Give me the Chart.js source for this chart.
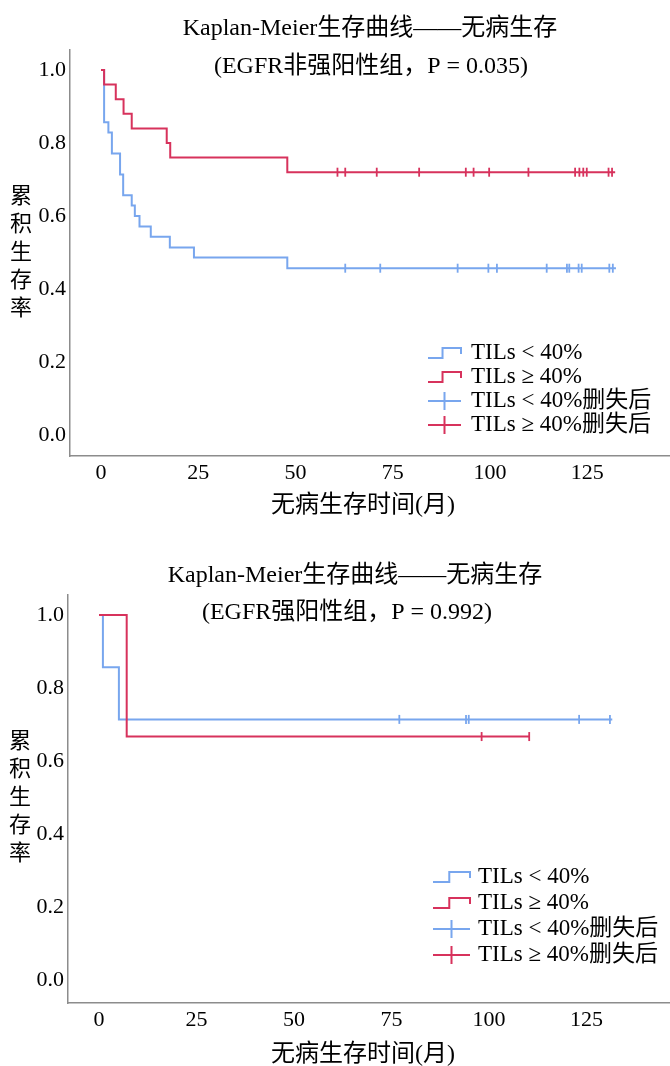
<!DOCTYPE html>
<html>
<head>
<meta charset="utf-8">
<script src="https://cdn.jsdelivr.net/npm/chart.js@4.4.1/dist/chart.umd.min.js"></script>
<style>
body { margin: 0; background: #fff; width: 670px; height: 1066px; overflow: hidden; }
.box { position: absolute; left: 0; width: 670px; height: 533px; }
</style>
</head>
<body>
<div class="box" style="top:0"><canvas id="c1" width="670" height="533"></canvas></div>
<div class="box" style="top:533px"><canvas id="c2" width="670" height="533"></canvas></div>
<script>
// axis ticks
var xTicks = [0, 25, 50, 75, 100, 125];
var yTicks = [0, 0.2, 0.4, 0.6, 0.8, 1.0];
var legendLabels = ['TILs < 40%', 'TILs ≥ 40%', 'TILs < 40%删失后', 'TILs ≥ 40%删失后'];

// chart 1: EGFR非强阳性组
var lowTime1 = [0, 0.8, 1.9, 2.8, 4.9, 5.7, 7.9, 8.7, 9.9, 12.8, 17.7, 23.9, 47.9, 132.4];
var lowSurv1 = [1, 0.857, 0.829, 0.771, 0.714, 0.657, 0.629, 0.600, 0.571, 0.543, 0.514, 0.486, 0.457, 0.457];
var lowCens1 = [62.8, 71.8, 91.7, 99.6, 101.8, 114.6, 119.8, 120.4, 122.8, 123.6, 130.7, 131.6];
var highTime1 = [0, 0.8, 3.8, 5.8, 7.9, 16.9, 17.8, 47.9, 132.2];
var highSurv1 = [1, 0.96, 0.92, 0.88, 0.84, 0.80, 0.76, 0.72, 0.72];
var highCens1 = [60.8, 62.8, 70.9, 81.8, 93.8, 95.8, 99.8, 109.9, 121.9, 123.0, 124.0, 124.9, 130.5, 131.4];

// chart 2: EGFR强阳性组
var lowTime2 = [0, 1.0, 5.1, 131.6];
var lowSurv2 = [1, 0.857, 0.714, 0.714];
var lowCens2 = [77.0, 94.1, 94.8, 123.1, 131.0];
var highTime2 = [0, 7.1, 110.5];
var highSurv2 = [1, 0.667, 0.667];
var highCens2 = [98.1, 110.3];

var BLUE = '#78a6ee';
var RED = '#d7325c';
var FONT = '"Liberation Serif", "Noto Sans CJK SC", serif';

Chart.defaults.font.family = FONT;
Chart.defaults.color = '#000';

function survAt(times, survs, t) {
    var s = survs[0];
    for (var i = 0; i < times.length; i++) {
        if (times[i] <= t) s = survs[i];
    }
    return s;
}

function kmSet(label, times, survs, color, order) {
    return {
        label: label,
        data: times.map(function(t, i) { return {x: t, y: survs[i]}; }),
        borderColor: color,
        borderWidth: 2,
        stepped: 'before',
        pointRadius: 0,
        fill: false,
        order: order
    };
}

function censSet(label, cens, times, survs, color) {
    return {
        label: label,
        data: cens.map(function(t) { return {x: t, y: survAt(times, survs, t)}; }),
        showLine: false,
        borderColor: color,
        backgroundColor: color,
        pointStyle: 'line',
        pointRotation: 90,
        pointRadius: 4.5,
        pointBorderWidth: 1.8,
        pointBorderColor: color,
        order: 0
    };
}

// titles, axis titles and legend drawn by hand
function textPlugin(cfg) {
    return {
        id: 'texts',
        afterDraw: function(chart) {
            var ctx = chart.ctx;
            ctx.save();
            ctx.fillStyle = '#000';
            ctx.textBaseline = 'middle';
            ctx.textAlign = 'center';
            ctx.font = '24px ' + FONT;
            ctx.fillText(cfg.title[0], cfg.t1[0], cfg.t1[1]);
            ctx.fillText(cfg.title[1], cfg.t2[0], cfg.t2[1]);

            ctx.font = '22px ' + FONT;
            var yt = '累积生存率';
            for (var i = 0; i < yt.length; i++) {
                ctx.fillText(yt[i], cfg.yTitle[0], cfg.yTitle[1] + i * 28);
            }
            ctx.font = '24px ' + FONT;
            ctx.fillText('无病生存时间(月)', cfg.xTitle[0], cfg.xTitle[1]);

            // legend
            var lg = cfg.legend;
            var w = lg.x1 - lg.x0;
            ctx.lineWidth = 2;
            ctx.font = '23px ' + FONT;
            for (var k = 0; k < legendLabels.length; k++) {
                var y = lg.y + k * lg.dy;
                ctx.strokeStyle = (k % 2 === 0) ? BLUE : RED;
                ctx.beginPath();
                if (k < 2) {
                    ctx.moveTo(lg.x0, y + 5);
                    ctx.lineTo(lg.x0 + w * 0.44, y + 5);
                    ctx.lineTo(lg.x0 + w * 0.44, y - 5);
                    ctx.lineTo(lg.x1, y - 5);
                    ctx.lineTo(lg.x1, y + 1);
                } else {
                    ctx.moveTo(lg.x0, y);
                    ctx.lineTo(lg.x1, y);
                    ctx.moveTo(lg.x0 + w / 2, y - 9);
                    ctx.lineTo(lg.x0 + w / 2, y + 9);
                }
                ctx.stroke();
                ctx.fillStyle = '#000';
                ctx.textAlign = 'left';
                ctx.fillText(legendLabels[k], lg.tx, y);
            }
            ctx.restore();
        }
    };
}

function makeChart(id, sets, box, cfg) {
    return new Chart(document.getElementById(id), {
        type: 'line',
        data: {datasets: sets},
        options: {
            responsive: false,
            animation: false,
            devicePixelRatio: 1,
            layout: {padding: {top: box.top, left: 0, right: 0, bottom: 0}, autoPadding: false},
            plugins: {legend: {display: false}, tooltip: {enabled: false}, title: {display: false}},
            scales: {
                x: {
                    type: 'linear',
                    min: box.xMin,
                    max: box.xMax,
                    grid: {display: false, drawTicks: false},
                    border: {display: true, color: '#8c8c8c', width: 1.5},
                    ticks: {font: {size: 22}, padding: 4, maxRotation: 0},
                    afterBuildTicks: function(s) { s.ticks = xTicks.map(function(v) { return {value: v}; }); },
                    afterFit: function(s) { s.height = 533 - box.bottom; }
                },
                y: {
                    type: 'linear',
                    min: box.yMin,
                    max: box.yMax,
                    grid: {display: false, drawTicks: false},
                    border: {display: true, color: '#8c8c8c', width: 1.5},
                    ticks: {font: {size: 22}, padding: 4, callback: function(v) { return v.toFixed(1); }},
                    afterBuildTicks: function(s) { s.ticks = yTicks.map(function(v) { return {value: v}; }); },
                    afterFit: function(s) { s.width = box.left; }
                }
            }
        },
        plugins: [textPlugin(cfg)]
    });
}

makeChart('c1', [
    censSet(legendLabels[2], lowCens1, lowTime1, lowSurv1, BLUE),
    censSet(legendLabels[3], highCens1, highTime1, highSurv1, RED),
    kmSet(legendLabels[0], lowTime1, lowSurv1, BLUE, 2),
    kmSet(legendLabels[1], highTime1, highSurv1, RED, 1)
], {top: 50, bottom: 456, left: 70, xMin: -7.97, xMax: 146.3, yMin: -0.0575, yMax: 1.0548}, {
    title: ['Kaplan-Meier生存曲线——无病生存', '(EGFR非强阳性组，P = 0.035)'],
    t1: [370, 29], t2: [371, 67],
    yTitle: [21, 197], xTitle: [363, 506],
    legend: {x0: 428, x1: 461, tx: 471, y: 353, dy: 24}
});

makeChart('c2', [
    censSet(legendLabels[2], lowCens2, lowTime2, lowSurv2, BLUE),
    censSet(legendLabels[3], highCens2, highTime2, highSurv2, RED),
    kmSet(legendLabels[0], lowTime2, lowSurv2, BLUE, 2),
    kmSet(legendLabels[1], highTime2, highSurv2, RED, 1)
], {top: 62, bottom: 470, left: 68, xMin: -7.95, xMax: 146.4, yMin: -0.063, yMax: 1.0548}, {
    title: ['Kaplan-Meier生存曲线——无病生存', '(EGFR强阳性组，P = 0.992)'],
    t1: [355, 43], t2: [347, 80],
    yTitle: [20, 209], xTitle: [363, 522],
    legend: {x0: 433, x1: 470, tx: 478, y: 344, dy: 26}
});
</script>
</body>
</html>
